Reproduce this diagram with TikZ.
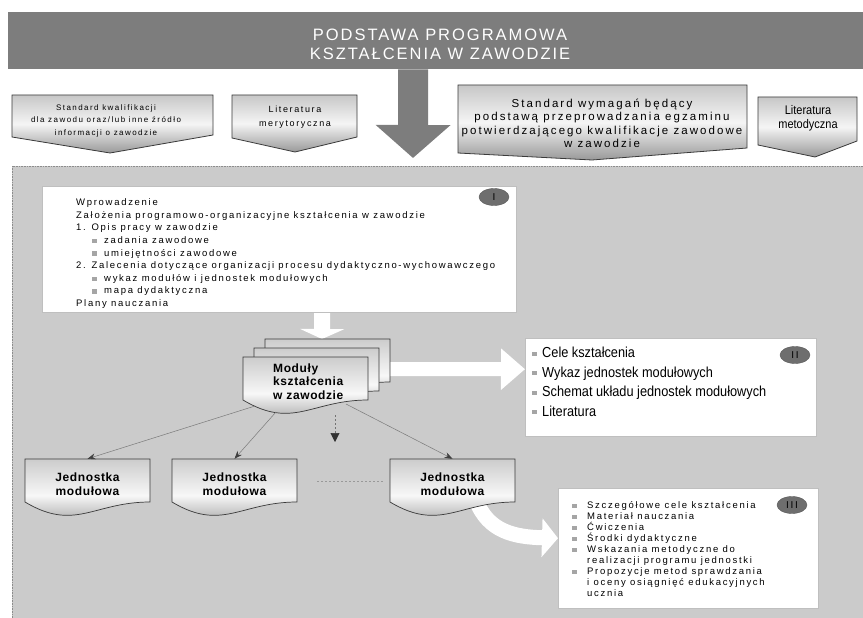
\documentclass[tikz,border=0pt]{standalone}
\usepackage{fontspec}
\setmainfont{Liberation Sans}
\newfontfamily\spacedfont[LetterSpace=18]{Liberation Sans}
\newfontfamily\titlefont[LetterSpace=12]{Liberation Sans}
\newfontfamily\modfont[LetterSpace=5]{Liberation Sans}
\newfontfamily\narrowfont[FakeStretch=0.88]{Liberation Sans}
\usetikzlibrary{arrows.meta,shapes.geometric}
\pgfdeclarelayer{bg}
\pgfsetlayers{bg,main}

\definecolor{bannergray}{HTML}{7D7D7D}
\definecolor{areagray}{HTML}{CBCBCB}
\definecolor{edgegray}{HTML}{3A3A3A}
\definecolor{bulletgray}{HTML}{A5A5A5}
\definecolor{linegray}{HTML}{7A7A7A}

\newcommand\bul{\textcolor{bulletgray}{\rule[0.3pt]{5pt}{4.5pt}}}
\newcommand\bigbul{\textcolor{bulletgray}{\rule[2pt]{5pt}{4pt}}}
% sheet with wavy bottom: top-left x, y, width, height
\newcommand\wavebox[4]{%
  \shadedraw[sheet] (#1,#2) -- (#1+#3,#2) -- (#1+#3,#2+#4)
    .. controls (#1+0.55*#3,#2+#4) and (#1+0.4*#3,#2+#4+30) .. (#1,#2+#4) -- cycle;}

\begin{document}
\begin{tikzpicture}[x=1pt, y=-1pt,
    sheet/.style={draw=edgegray, line width=0.7pt, top color=black!20, bottom color=black!45, middle color=black!3},
    srcbox/.style={draw=edgegray, line width=0.8pt, top color=black!22, bottom color=black!40, middle color=black!4},
    whitebox/.style={draw=black!25, fill=white, line width=0.4pt, inner sep=0, anchor=north west},
    numtag/.style={ellipse, fill=black!57, draw=black!65, minimum width=30pt, minimum height=17pt, inner sep=0,
      font=\spacedfont\fontsize{10}{12}\selectfont},
    txt/.style={inner sep=0, align=left, anchor=north west},
    ctxt/.style={inner sep=0, align=center, anchor=north},
    unit/.style={inner sep=0, align=center, minimum width=125pt, minimum height=50pt,
      font=\modfont\bfseries\fontsize{12}{14}\selectfont},
    link/.style={draw=linegray, line width=0.5pt, -{Stealth[length=8pt,width=6pt,color=black!75]}},
    hollow/.style={draw=white}
  ]
  \useasboundingbox (0,0) rectangle (863,618);
  \begin{pgfonlayer}{bg}
    \fill[white] (0,0) rectangle (863,618);
    \filldraw[fill=areagray, draw=black!45, densely dotted, line width=0.6pt] (12,166) rectangle (875,630);
  \end{pgfonlayer}

  \node[fill=bannergray, inner sep=0, minimum width=855pt, minimum height=57pt, anchor=north west] (banner) at (8,12) {};
  \node[ctxt, text=white, font=\titlefont\fontsize{16.5}{19}\selectfont] (title) at (440,29.2)
    {PODSTAWA PROGRAMOWA\\KSZTAŁCENIA W ZAWODZIE};
  \coordinate (tip) at (413,158);
  \draw[bannergray, line width=30pt, -{Triangle[width=73pt,length=33pt]}] ([xshift=-22.5pt]banner.south) -- (tip);

  \draw[srcbox] (12,95) -- (213,95) -- (213,135) -- (110,153) -- (12,137) -- cycle;
  \draw[srcbox] (232,95) -- (357,95) -- (357,137) -- (295,152) -- (232,138) -- cycle;
  \draw[srcbox] (458,85) -- (747,85) -- (747,148) -- (592,160) -- (458,153) -- cycle;
  \draw[srcbox] (758,97) -- (857,97) -- (857,141) -- (815,157) -- (758,145) -- cycle;
  \node[ctxt, font=\spacedfont\fontsize{8}{12.5}\selectfont] (stdkw) at (106,104.2)
    {Standard kwalifikacji\\dla zawodu oraz/lub inne źródło\\informacji o zawodzie};
  \node[ctxt, font=\spacedfont\fontsize{9}{14}\selectfont] (litmer) at (295,106)
    {Literatura\\merytoryczna};
  \node[ctxt, font=\spacedfont\fontsize{11.5}{13.4}\selectfont] (stdwym) at (602,98.6)
    {Standard wymagań będący\\podstawą przeprowadzania egzaminu\\potwierdzającego kwalifikacje zawodowe\\w zawodzie};
  \node[ctxt, font=\narrowfont\fontsize{12.5}{14}\selectfont] (litmet) at (808,105)
    {Literatura\\metodyczna};

  \node[whitebox, minimum width=474pt, minimum height=126pt] (box1) at (42,186) {};
  \node[txt, font=\spacedfont\fontsize{9.5}{12.6}\selectfont] (list1) at (76,198.7)
    {Wprowadzenie\\
     Założenia programowo-organizacyjne kształcenia w zawodzie\\
     1. Opis pracy w zawodzie\\
     \hspace*{16pt}\bul\hspace{7pt}zadania zawodowe\\
     \hspace*{16pt}\bul\hspace{7pt}umiejętności zawodowe\\
     2. Zalecenia dotyczące organizacji procesu dydaktyczno-wychowawczego\\
     \hspace*{16pt}\bul\hspace{7pt}wykaz modułów i jednostek modułowych\\
     \hspace*{16pt}\bul\hspace{7pt}mapa dydaktyczna\\
     Plany nauczania};
  \node[numtag] (t1) at (494,197) {I};

  \wavebox{265}{339}{125}{43}
  \wavebox{254}{348}{125}{43}
  \wavebox{243}{357}{125}{43}
  \node[txt, font=\modfont\bfseries\fontsize{12}{13.5}\selectfont] (mod) at (273,363.3)
    {Moduły\\kształcenia\\w zawodzie};
  \coordinate (modin) at (322,339);
  \coordinate (modout) at (380,369);

  \node[whitebox, minimum width=291pt, minimum height=98pt] (box2) at (525,338) {};
  \node[txt, font=\narrowfont\fontsize{14.5}{19.5}\selectfont] (list2) at (532,347)
    {\bigbul\hspace{5pt}Cele kształcenia\\
     \bigbul\hspace{5pt}Wykaz jednostek modułowych\\
     \bigbul\hspace{5pt}Schemat układu jednostek modułowych\\
     \bigbul\hspace{5pt}Literatura};
  \node[numtag] (t2) at (795,355) {II};

  \wavebox{25}{459}{125}{43}
  \wavebox{172}{459}{125}{43}
  \wavebox{390}{459}{125}{43}
  \node[unit] (j1) at (87.5,484) {Jednostka\\modułowa};
  \node[unit] (j2) at (234.5,484) {Jednostka\\modułowa};
  \node[unit] (j3) at (452.5,484) {Jednostka\\modułowa};

  \coordinate (m1) at (255,406);
  \coordinate (m2) at (276,412);
  \coordinate (m3) at (335,415);
  \coordinate (m4) at (346,404);
  \coordinate (gap) at (335,442);
  \draw[link] (m1) -- (j1.north);
  \draw[link] (m2) -- (j2.north);
  \draw[link] (m4) -- (j3.north);
  \draw[draw=black!55, line width=0.6pt, dash pattern=on 2pt off 2pt,
    -{Triangle[length=9pt,width=9pt,color=black!80]}] (m3) -- (gap);
  \draw[draw=black!40, line width=0.6pt, dash pattern=on 2pt off 2pt]
    ([xshift=20pt,yshift=3pt]j2.east) -- ([xshift=-5pt,yshift=3pt]j3.west);

  \node[whitebox, minimum width=260pt, minimum height=120pt] (box3) at (558,488) {};
  \node[txt, font=\spacedfont\fontsize{9.5}{11}\selectfont] (list3) at (572,501.6)
    {\bul\hspace{10pt}Szczegółowe cele kształcenia\\
     \bul\hspace{10pt}Materiał nauczania\\
     \bul\hspace{10pt}Ćwiczenia\\
     \bul\hspace{10pt}Środki dydaktyczne\\
     \bul\hspace{10pt}Wskazania metodyczne do\\
     \hspace*{15pt}realizacji programu jednostki\\
     \bul\hspace{10pt}Propozycje metod sprawdzania\\
     \hspace*{15pt}i oceny osiągnięć edukacyjnych\\
     \hspace*{15pt}ucznia};
  \node[numtag] (t3) at (792,505) {III};

  \begin{pgfonlayer}{bg}
    \draw[hollow, line width=16pt, -{Triangle[width=44pt,length=10pt]}] ([xshift=43pt]box1.south) -- (modin);
    \draw[hollow, line width=14pt, -{Triangle[width=40pt,length=24pt]}] (modout) -- ([yshift=18pt]box2.west);
    \draw[hollow, line width=15pt, -{Triangle[width=38pt,length=16pt]}] ([shift={(23.5,16)}]j3.center)
      .. controls (488,532) and (515,537) .. ([yshift=10pt]box3.west);
  \end{pgfonlayer}
\end{tikzpicture}
\end{document}
